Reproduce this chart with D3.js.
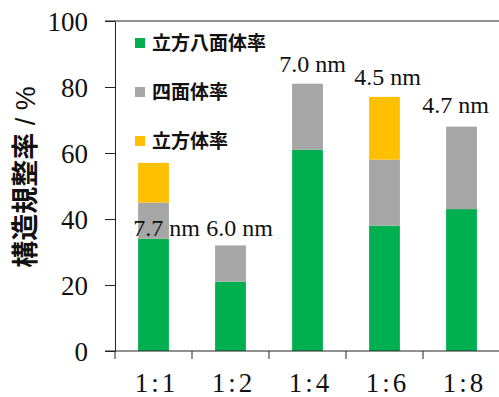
<!DOCTYPE html>
<html lang="ja">
<head>
<meta charset="utf-8">
<style>
    body { margin: 0; background: #fff; }
    svg { display: block; }
    .num { font-family: "Liberation Serif", "Times New Roman", serif; fill: #111; }
    .cjk { font-family: "Noto Sans CJK JP", sans-serif; font-weight: bold; fill: #111; }
</style>
</head>
<body>
<svg width="499" height="397"></svg>
<script src="https://cdn.jsdelivr.net/npm/d3@7"></script>
<script>
    // Data
    const categories = ["1:1", "1:2", "1:4", "1:6", "1:8"];
    const octahedral = [34, 21, 61, 38, 43];   // 立方八面体率
    const tetrahedral = [11, 11, 20, 20, 25];  // 四面体率
    const cubic = [12, 0, 0, 19, 0];           // 立方体率
    const sizeLabels = ["7.7 nm", "6.0 nm", "7.0 nm", "4.5 nm", "4.7 nm"];
    const sizeLabelY = [34.8, 34.8, 84.5, 80.6, 72.1]; // label baseline, in % units
    const sizeLabelDx = [13, 9, 5, 3, -6];
    const seriesNames = ["立方八面体率", "四面体率", "立方体率"];
    const seriesColors = ["#00B050", "#A6A6A6", "#FFC000"];
    const yTicks = [0, 20, 40, 60, 80, 100];

    const svg = d3.select("svg");
    const plotLeft = 115, plotRight = 500, plotTop = 21, plotBottom = 351;

    const x = d3.scaleBand().domain(categories).range([plotLeft, plotRight]).padding(0);
    const y = d3.scaleLinear().domain([0, 100]).range([plotBottom, plotTop]);
    const barW = x.bandwidth() * 0.4;

    // stacked data
    const rows = categories.map((c, i) => ({ cat: c, s0: octahedral[i], s1: tetrahedral[i], s2: cubic[i] }));
    const stack = d3.stack().keys(["s0", "s1", "s2"])(rows);

    svg.selectAll(".layer")
        .data(stack)
        .join("g")
        .attr("fill", (d, i) => seriesColors[i])
        .selectAll("rect")
        .data(d => d.filter(p => p[1] > p[0]))
        .join("rect")
        .attr("x", d => x(d.data.cat) + (x.bandwidth() - barW) / 2)
        .attr("width", barW)
        .attr("y", d => y(d[1]))
        .attr("height", d => y(d[0]) - y(d[1]));

    // Frame lines (top border and base line)
    svg.append("line").attr("x1", plotLeft - 10).attr("x2", 499)
        .attr("y1", y(100)).attr("y2", y(100)).attr("stroke", "#222");
    svg.append("line").attr("x1", plotLeft - 10).attr("x2", 499)
        .attr("y1", y(0)).attr("y2", y(0)).attr("stroke", "#222");

    // Y axis
    const yAxis = svg.append("g")
        .attr("transform", `translate(${plotLeft},0)`)
        .call(d3.axisLeft(y).tickValues(yTicks).tickSize(10).tickSizeOuter(0).tickPadding(17));
    yAxis.selectAll("path, line").attr("stroke", "#222");
    yAxis.selectAll("text")
        .attr("class", "num")
        .attr("font-size", 27)
        .attr("dy", "0.34em");

    // X axis: ticks at category boundaries, labels centred
    const bounds = categories.map(c => x(c));
    svg.selectAll(".xtick")
        .data(bounds)
        .join("line")
        .attr("x1", d => d).attr("x2", d => d)
        .attr("y1", y(0)).attr("y2", y(0) + 8)
        .attr("stroke", "#222");

    svg.selectAll(".xlab")
        .data(categories)
        .join("text")
        .attr("class", "num")
        .attr("font-size", 27)
        .attr("letter-spacing", 3)
        .attr("text-anchor", "middle")
        .attr("x", d => x(d) + x.bandwidth() / 2 + 3)
        .attr("y", 392)
        .text(d => d);

    // Size labels
    svg.selectAll(".size")
        .data(sizeLabels)
        .join("text")
        .attr("class", "num")
        .attr("font-size", 24)
        .attr("text-anchor", "middle")
        .attr("x", (d, i) => x(categories[i]) + x.bandwidth() / 2 + sizeLabelDx[i])
        .attr("y", (d, i) => y(sizeLabelY[i]))
        .text(d => d);

    // Legend
    const legend = svg.append("g").attr("transform", "translate(135,43)");
    const item = legend.selectAll("g")
        .data(seriesNames)
        .join("g")
        .attr("transform", (d, i) => `translate(0,${i * 49})`);
    item.append("rect")
        .attr("x", 0).attr("y", -5).attr("width", 10).attr("height", 10)
        .attr("fill", (d, i) => seriesColors[i]);
    item.append("text")
        .attr("class", "cjk")
        .attr("font-size", 19)
        .attr("x", 17)
        .attr("dy", "0.36em")
        .text(d => d);

    // Y title
    const title = svg.append("text")
        .attr("transform", "translate(35,177) rotate(-90)")
        .attr("text-anchor", "middle");
    title.append("tspan").attr("class", "cjk").attr("font-size", 27).text("構造規整率");
    title.append("tspan")
        .attr("font-family", "Liberation Sans, Arial, sans-serif")
        .attr("font-size", 27)
        .attr("fill", "#111")
        .text(" / %");
</script>
</body>
</html>
